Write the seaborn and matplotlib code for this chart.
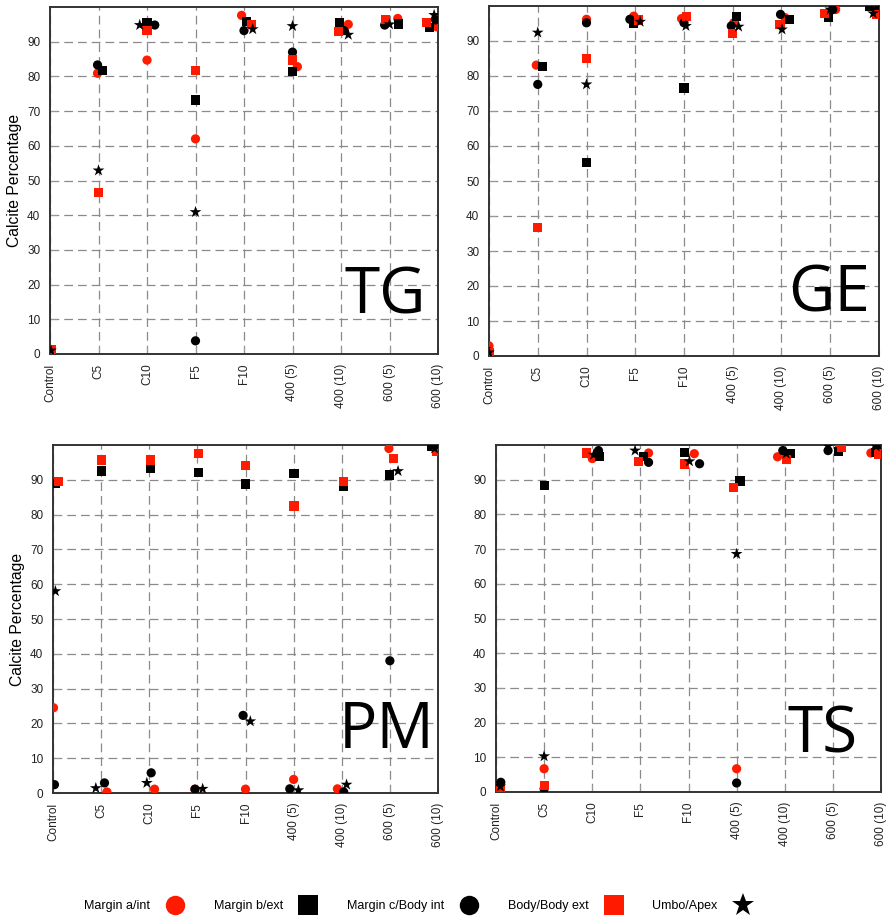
import matplotlib
matplotlib.use("Agg")
import matplotlib.pyplot as plt
from matplotlib.lines import Line2D
import seaborn as sns
import pandas as pd

CATEGORIES = ["Control", "C5", "C10", "F5", "F10", "400 (5)", "400 (10)", "600 (5)", "600 (10)"]
SERIES = ["Margin a/int", "Margin b/ext", "Margin c/Body int", "Body/Body ext", "Umbo/Apex"]
PANELS = ["TG", "GE", "PM", "TS"]

# ---- values (Calcite %) ----
TG_A = [1.0, 80.9, 84.7, 62.0, 97.6, 82.8, 95.0, 96.7, 94.3]
TG_B = [1.0, 81.7, 95.5, 73.2, 95.8, 81.3, 95.5, 95.1, 94.1]
TG_C = [1.0, 83.3, 94.8, 3.8, 93.2, 87.0, 93.2, 94.8, 96.3]
TG_BODY = [1.2, 46.6, 93.2, 81.7, 95.0, 84.7, 93.0, 96.3, 95.6]
TG_UMBO = [1.0, 52.9, 94.8, 40.9, 93.6, 94.5, 92.0, 95.0, 97.7]

GE_A = [2.9, 83.1, 96.2, 97.1, 96.4, 95.2, 96.7, 99.0, 98.0]
GE_B = [1.0, 82.8, 55.2, 95.0, 76.6, 96.9, 96.1, 96.7, 99.8]
GE_C = [1.2, 77.6, 95.2, 96.2, 95.2, 94.3, 97.6, 99.0, 99.0]
GE_BODY = [1.0, 36.8, 84.9, 96.0, 97.1, 92.1, 94.8, 97.9, 97.6]
GE_UMBO = [1.0, 92.4, 77.6, 95.5, 94.3, 94.1, 93.3, 99.0, 97.9]

PM_A = [24.5, 0.3, 1.1, 1.1, 1.1, 3.9, 1.2, 99.0, 99.0]
PM_B = [89.0, 92.5, 93.3, 92.1, 88.8, 91.9, 88.0, 91.4, 99.5]
PM_C = [2.4, 2.9, 5.8, 1.1, 22.3, 1.2, 0.3, 38.0, 99.0]
PM_BODY = [89.5, 95.7, 95.7, 97.5, 94.0, 82.5, 89.5, 96.2, 98.1]
PM_UMBO = [58.0, 1.4, 2.9, 1.2, 20.6, 0.8, 2.4, 92.5, 99.0]

TS_A = [1.0, 6.7, 96.1, 97.7, 97.5, 6.7, 96.6, 99.4, 97.7]
TS_B = [1.0, 88.3, 96.7, 96.7, 97.9, 89.6, 97.5, 98.2, 97.9]
TS_C = [2.8, 0.9, 98.4, 95.0, 94.6, 2.6, 98.4, 98.4, 99.0]
TS_BODY = [0.7, 1.9, 97.7, 95.3, 94.5, 87.8, 95.8, 99.4, 97.4]
TS_UMBO = [1.6, 10.3, 97.2, 98.4, 95.3, 68.6, 97.5, 99.7, 99.6]

# ---- horizontal jitter of each point (category units) ----
TG_A_DX = [0, -0.02, 0, 0, -0.05, 0.10, 0.15, 0.17, -0.03]
TG_B_DX = [0, 0.09, 0, 0, 0.05, 0, -0.03, 0.18, -0.17]
TG_C_DX = [0, -0.02, 0.16, 0, 0, 0, 0.06, -0.10, -0.05]
TG_BODY_DX = [0.02, 0, 0, 0, 0.15, 0, -0.05, -0.08, -0.24]
TG_UMBO_DX = [0.02, 0, -0.15, 0, 0.18, 0, 0.15, 0, -0.08]

GE_A_DX = [0, -0.03, 0, -0.03, -0.05, 0.02, 0.07, 0.11, 0]
GE_B_DX = [0, 0.10, 0, -0.04, 0, 0.07, 0.16, -0.03, -0.19]
GE_C_DX = [0, 0, 0, -0.11, 0, -0.03, -0.02, 0.05, -0.02]
GE_BODY_DX = [0, 0, 0, 0.06, 0.05, 0, -0.03, -0.12, -0.05]
GE_UMBO_DX = [0, 0, 0, 0.10, 0.04, 0.12, 0.01, 0, -0.12]

PM_A_DX = [0.01, 0.12, 0.11, -0.05, 0, 0, -0.09, -0.02, 0]
PM_B_DX = [0.05, 0, 0.02, 0.02, 0, 0.01, 0.03, -0.01, -0.14]
PM_C_DX = [0.03, 0.07, 0.04, -0.05, -0.05, -0.08, 0.04, 0, -0.03]
PM_BODY_DX = [0.12, 0, 0.02, 0.02, 0, 0.01, 0.03, 0.07, -0.03]
PM_UMBO_DX = [0.05, -0.11, -0.05, 0.11, 0.10, 0.10, 0.10, 0.17, -0.07]

TS_A_DX = [0.05, 0, 0, 0.17, 0.12, 0, -0.15, 0.14, -0.21]
TS_B_DX = [0.05, 0, 0.15, 0.06, -0.09, 0.07, 0.12, 0.11, -0.12]
TS_C_DX = [0.10, 0, 0.13, 0.17, 0.23, 0, -0.04, -0.10, -0.09]
TS_BODY_DX = [0.10, 0, -0.12, -0.04, -0.09, -0.06, 0.04, 0.18, -0.06]
TS_UMBO_DX = [0.09, 0, 0.03, -0.11, 0.02, 0, 0.03, -0.10, -0.10]

VALUES = {
    "TG": [TG_A, TG_B, TG_C, TG_BODY, TG_UMBO],
    "GE": [GE_A, GE_B, GE_C, GE_BODY, GE_UMBO],
    "PM": [PM_A, PM_B, PM_C, PM_BODY, PM_UMBO],
    "TS": [TS_A, TS_B, TS_C, TS_BODY, TS_UMBO],
}
JITTER = {
    "TG": [TG_A_DX, TG_B_DX, TG_C_DX, TG_BODY_DX, TG_UMBO_DX],
    "GE": [GE_A_DX, GE_B_DX, GE_C_DX, GE_BODY_DX, GE_UMBO_DX],
    "PM": [PM_A_DX, PM_B_DX, PM_C_DX, PM_BODY_DX, PM_UMBO_DX],
    "TS": [TS_A_DX, TS_B_DX, TS_C_DX, TS_BODY_DX, TS_UMBO_DX],
}

rows = []
for p in PANELS:
    for s, vals, dxs in zip(SERIES, VALUES[p], JITTER[p]):
        for i, (v, dx) in enumerate(zip(vals, dxs)):
            rows.append({"panel": p, "series": s, "cat": i, "pos": i + dx, "value": v})
df = pd.DataFrame(rows)

STYLE = {
    "Margin a/int": dict(marker="o", color="#ff1a00", s=44),
    "Margin b/ext": dict(marker="s", color="#000000", s=44),
    "Margin c/Body int": dict(marker="o", color="#000000", s=44),
    "Body/Body ext": dict(marker="s", color="#ff1a00", s=44),
    "Umbo/Apex": dict(marker="*", color="#000000", s=80),
}

plt.rcParams["font.family"] = ["Liberation Sans", "DejaVu Sans"]

W, H = 892, 917
fig = plt.figure(figsize=(W / 100, H / 100), dpi=100)

# axes boxes in pixels: left, right, top, bottom
BOXES = {
    "TG": (50, 438, 7, 354),
    "GE": (489, 879, 6, 356),
    "PM": (53, 438, 445, 793),
    "TS": (496, 881, 445, 792),
}
LABEL_POS = {"TG": (0.760, 0.118), "GE": (0.767, 0.126), "PM": (0.743, 0.129), "TS": (0.756, 0.115)}

for p in PANELS:
    l, r, t, b = BOXES[p]
    ax = fig.add_axes([l / W, (H - b) / H, (r - l) / W, (b - t) / H])
    sub = df[df["panel"] == p]
    for s in SERIES:
        d = sub[sub["series"] == s]
        st = STYLE[s]
        sns.scatterplot(data=d, x="pos", y="value", marker=st["marker"], color=st["color"],
                        s=st["s"], linewidth=0, edgecolor="none", ax=ax, legend=False, zorder=3)
    ax.set_xlim(0, 8)
    ax.set_ylim(0, 100)
    ax.set_xticks(range(len(CATEGORIES)))
    ax.set_xticklabels(CATEGORIES, rotation=90, va="top", ha="center")
    ax.set_yticks(range(0, 100, 10))
    ax.tick_params(direction="in", length=5, color="#999999", labelsize=8.5,
                   labelcolor="#222222", pad=7)
    ax.grid(True, linestyle=(0, (7, 4)), color="#8a8a8a", linewidth=0.9, zorder=0)
    ax.set_axisbelow(True)
    for sp in ax.spines.values():
        sp.set_color("#333333")
        sp.set_linewidth(1.4)
    ax.set_xlabel("")
    if p in ("TG", "PM"):
        ax.set_ylabel("Calcite Percentage", fontsize=11.3)
        ax.yaxis.set_label_coords(-0.072, 0.5)
    else:
        ax.set_ylabel("")
    lx, ly = LABEL_POS[p]
    ax.text(lx, ly, p, transform=ax.transAxes, fontsize=46, family=["Open Sans", "DejaVu Sans"],
            ha="left", va="baseline", color="black", zorder=5)

handles = []
for s in SERIES:
    st = STYLE[s]
    handles.append(Line2D([], [], linestyle="none", marker=st["marker"], color=st["color"],
                          markersize=17 if st["marker"] == "*" else 14, markeredgewidth=0))
fig.legend(handles, SERIES, loc="center", bbox_to_anchor=(0.467, 1 - 906 / H), ncol=5,
           frameon=False, markerfirst=False, handletextpad=1.5, columnspacing=2.6,
           handlelength=1.0, prop={"family": ["Liberation Sans Narrow", "Liberation Sans"], "size": 9})

fig.savefig("out.png", dpi=100)
